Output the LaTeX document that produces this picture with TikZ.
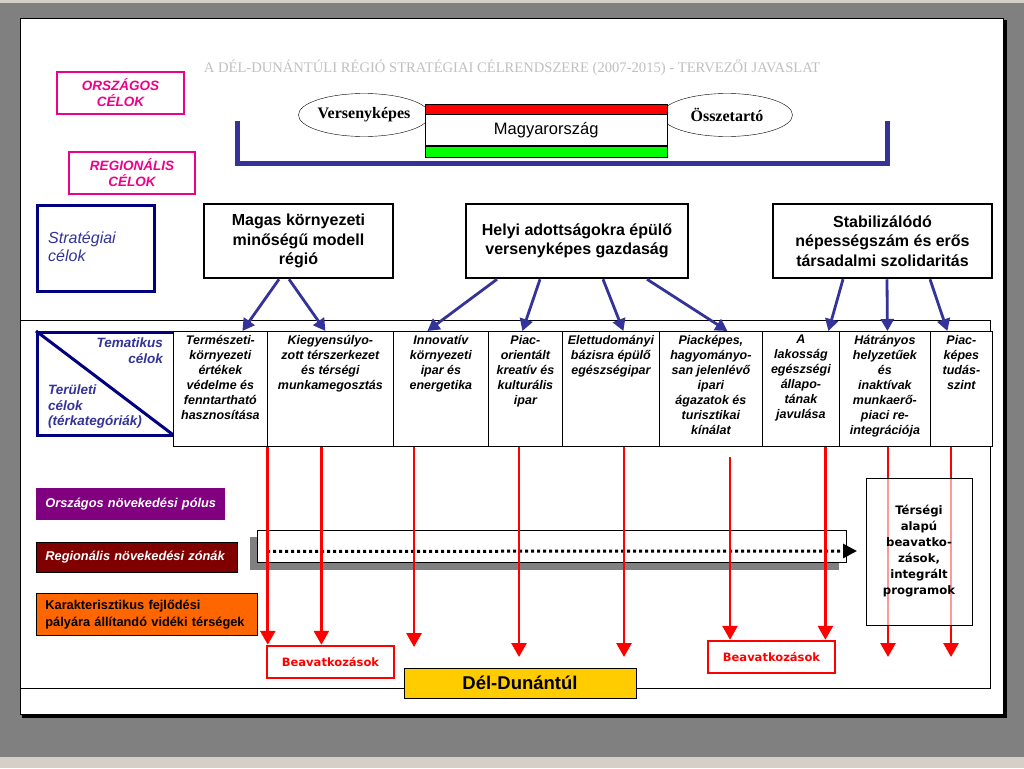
\documentclass[tikz,border=0pt]{standalone}
\usepackage{fontspec}
\setmainfont{Liberation Sans}
\newfontfamily\timesfont{Liberation Serif}
\newfontfamily\dejavu{DejaVu Sans}
\usetikzlibrary{positioning,arrows.meta,shapes.geometric}

\definecolor{slidegray}{HTML}{808080}
\definecolor{winbar}{HTML}{D4D0C8}
\definecolor{barblue}{HTML}{333399}
\definecolor{navybox}{HTML}{000080}
\definecolor{titlegray}{HTML}{C0C0C0}
\definecolor{hugreen}{HTML}{00FF00}
\definecolor{pole}{HTML}{800080}
\definecolor{zone}{HTML}{800000}
\definecolor{rural}{HTML}{FF6600}
\definecolor{regio}{HTML}{FFCC00}

\tikzset{
  levelbox/.style={draw=magenta,line width=1.2pt,text=magenta,align=center,inner sep=0pt,
    font=\bfseries\itshape\fontsize{13.5}{16}\selectfont},
  goalbox/.style={draw,line width=2.5pt,fill=white,align=center,inner sep=0pt,
    minimum height=74pt,font=\bfseries\fontsize{16}{19.5}\selectfont},
  cellbox/.style={draw,fill=white,line width=0.8pt,minimum height=115pt,inner sep=0pt,anchor=north west},
  celltext/.style={align=center,inner sep=0pt,font=\bfseries\itshape\fontsize{12.5}{15}\selectfont},
  areabox/.style={draw,line width=0.8pt,anchor=north west,inner sep=0pt,inner xsep=9pt,align=left,
    font=\bfseries\itshape\fontsize{12.8}{15}\selectfont},
  beavbox/.style={draw=red,line width=2.5pt,fill=white,text=red,inner sep=0pt,
    minimum width=127pt,minimum height=32pt,font=\dejavu\bfseries\fontsize{11.5}{13}\selectfont},
  bluearr/.style={draw=barblue,line width=2.8pt,-{Triangle[width=13pt,length=12pt]}},
  redarr/.style={draw=red,line width=2.8pt,-{Triangle[width=15pt,length=14pt]}}
}

\begin{document}
\begin{tikzpicture}[x=1pt,y=-1pt]
\useasboundingbox (0,0) rectangle (1024,768);
% window and slide
\fill[slidegray] (0,0) rectangle (1024,768);
\fill[winbar] (0,0) rectangle (1024,3);
\fill[winbar] (0,757) rectangle (1024,768);
\fill[black] (22,20) rectangle (1007,718);
\filldraw[fill=white,draw=black,line width=0.8pt] (20,18) rectangle (1003,714);

% title
\node[text=titlegray,inner sep=0pt,font=\timesfont\fontsize{14.6}{16}\selectfont] (title) at (512,68)
  {A DÉL-DUNÁNTÚLI RÉGIÓ STRATÉGIAI CÉLRENDSZERE (2007-2015) - TERVEZŐI JAVASLAT};

% levels
\node[levelbox,minimum width=127pt,minimum height=42pt] (orszagos) at (120.5,93) {ORSZÁGOS\\CÉLOK};
\node[levelbox,minimum width=126pt,minimum height=42pt] (regionalis) at (132,173) {REGIONÁLIS\\CÉLOK};

% national goals
\draw[barblue,line width=5pt] (237,121) -- (237,163) -- (887,163) -- (887,121);
\node[draw,ellipse,fill=white,minimum width=128pt,minimum height=43pt,inner sep=0pt,
  font=\timesfont\bfseries\fontsize{16}{18}\selectfont] (verseny) at (364,115) {Versenyképes};
\node[draw,ellipse,fill=white,minimum width=131pt,minimum height=43pt,inner sep=0pt,
  font=\timesfont\bfseries\fontsize{16}{18}\selectfont] (osszetart) at (727,115) {Összetartó};
\node[draw,fill=red,minimum width=242pt,minimum height=10pt,inner sep=0pt,anchor=north west] (redband) at (425,104) {};
\node[draw,fill=white,minimum width=242pt,minimum height=31pt,inner sep=0pt,below=0pt of redband,
  font=\fontsize{16.5}{18}\selectfont] (flag) {Magyarország};
\node[draw,fill=hugreen,minimum width=242pt,minimum height=11pt,inner sep=0pt,below=0pt of flag] (greenband) {};

% strategic goals
\node[draw=navybox,line width=3pt,minimum width=117pt,minimum height=86pt,anchor=north west] (strat) at (36,204) {};
\node[text=barblue,align=left,anchor=west,inner sep=0pt,font=\itshape\fontsize{16}{18}\selectfont] (strattext) at (48,247) {Stratégiai\\célok};
\node[goalbox,minimum width=189pt] (magas) at (298.5,241) {Magas környezeti\\minőségű modell\\régió};
\node[goalbox,minimum width=222pt] (helyi) at (577,241) {Helyi adottságokra épülő\\versenyképes gazdaság};
\node[goalbox,minimum width=219pt] (stabil) at (882.5,241) {Stabilizálódó\\népességszám és erős\\társadalmi szolidaritás};

% thematic frame
\draw[line width=0.8pt] (20,320) -- (990,320) -- (990,688) -- (20,688);
\node[draw=navybox,line width=3pt,minimum width=137pt,minimum height=103pt,anchor=north west] (tema) at (36,331) {};
\draw[navybox,line width=3pt] (tema.north west) -- (tema.south east);
\node[text=barblue,align=right,anchor=north east,inner sep=0pt,font=\bfseries\itshape\fontsize{13.5}{15.5}\selectfont] (tematext) at (163,338) {Tematikus\\célok};
\node[text=barblue,align=left,anchor=west,inner sep=0pt,font=\bfseries\itshape\fontsize{13.5}{15.5}\selectfont] (teruletext) at (48,407) {Területi\\célok\\(térkategóriák)};

\node[cellbox,minimum width=94pt] (c1) at (173,331) {};
\node[cellbox,minimum width=126pt] (c2) at (267,331) {};
\node[cellbox,minimum width=95pt] (c3) at (393,331) {};
\node[cellbox,minimum width=74pt] (c4) at (488,331) {};
\node[cellbox,minimum width=97pt] (c5) at (562,331) {};
\node[cellbox,minimum width=103pt] (c6) at (659,331) {};
\node[cellbox,minimum width=77pt] (c7) at (762,331) {};
\node[cellbox,minimum width=91pt] (c8) at (839,331) {};
\node[cellbox,minimum width=62pt] (c9) at (930,331) {};
\node[celltext,below=4pt of c1.north] {Természeti-\\környezeti\\értékek\\védelme és\\fenntartható\\hasznosítása};
\node[celltext,below=4pt of c2.north] {Kiegyensúlyo-\\zott térszerkezet\\és térségi\\munkamegosztás};
\node[celltext,below=4pt of c3.north] {Innovatív\\környezeti\\ipar és\\energetika};
\node[celltext,below=4pt of c4.north] {Piac-\\orientált\\kreatív és\\kulturális\\ipar};
\node[celltext,below=4pt of c5.north] {Elettudományi\\bázisra épülő\\egészségipar};
\node[celltext,below=4pt of c6.north] {Piacképes,\\hagyományo-\\san jelenlévő\\ipari\\ágazatok és\\turisztikai\\kínálat};
\node[celltext,below=4pt of c7.north] {A\\lakosság\\egészségi\\állapo-\\tának\\javulása};
\node[celltext,below=4pt of c8.north] {Hátrányos\\helyzetűek\\és\\inaktívak\\munkaerő-\\piaci re-\\integrációja};
\node[celltext,below=4pt of c9.north] {Piac-\\képes\\tudás-\\szint};

% goal arrows
\draw[bluearr] ([xshift=-19.5pt]magas.south) -- ([xshift=22pt]c1.north);
\draw[bluearr] ([xshift=-9.5pt]magas.south) -- ([xshift=-5pt]c2.north);
\draw[bluearr] ([xshift=-80pt]helyi.south) -- ([xshift=-13.5pt]c3.north);
\draw[bluearr] ([xshift=-37pt]helyi.south) -- ([xshift=-3pt]c4.north);
\draw[bluearr] ([xshift=26pt]helyi.south) -- ([xshift=12.5pt]c5.north);
\draw[bluearr] ([xshift=70pt]helyi.south) -- ([xshift=16.5pt]c6.north);
\draw[bluearr] ([xshift=-39.5pt]stabil.south) -- ([xshift=27.5pt]c7.north);
\draw[bluearr] ([xshift=4.5pt]stabil.south) -- ([xshift=2.5pt]c8.north);
\draw[bluearr] ([xshift=47.5pt]stabil.south) -- ([xshift=-14pt]c9.north);

% territorial categories
\node[areabox,draw=none,fill=pole,text=white,minimum width=189pt,minimum height=32pt,text width=171pt] (polus) at (36,488) {Országos növekedési pólus};
\node[areabox,fill=zone,text=white,minimum width=201pt,minimum height=30pt,text width=183pt] (zonak) at (36,542) {Regionális növekedési zónák};
\node[areabox,fill=rural,minimum width=221pt,minimum height=42pt,text width=203pt,
  font=\bfseries\fontsize{12.8}{17}\selectfont] (videki) at (36,593) {Karakterisztikus fejlődési\\pályára állítandó vidéki térségek};

\fill[slidegray] (250,537) rectangle (839,570);
\node[draw,fill=white,line width=0.8pt,minimum width=589pt,minimum height=32pt,inner sep=0pt,anchor=north west] (zonebar) at (257,530) {};
\coordinate (dotend) at (857,551);
\draw[line width=3pt,dash pattern=on 3pt off 3pt,-{Triangle[width=14pt,length=14pt]}] ([xshift=10pt,yshift=-5pt]zonebar.west) -- (dotend);

% interventions
\node[beavbox] (beav1) at (330.5,662) {Beavatkozások};
\node[beavbox] (beav2) at (771.5,657) {Beavatkozások};
\node[draw,fill=regio,line width=0.8pt,minimum width=232pt,minimum height=30pt,inner sep=0pt,
  font=\bfseries\fontsize{18.5}{20}\selectfont] (deldunantul) at (520,683) {Dél-Dunántúl};

\coordinate (e3) at (414,647);
\coordinate (e4) at (519,657);
\coordinate (e5) at (624,657);
\coordinate (s6) at (730,457);
\coordinate (e8) at (888,657);
\coordinate (e9) at (951,657);
\draw[redarr] (c1.south east) -- (c1.south east |- beav1.north);
\draw[redarr] ([xshift=-9pt]c2.south) -- ([xshift=-9pt]c2.south |- beav1.north);
\draw[redarr] (e3 |- c3.south) -- (e3);
\draw[redarr] (e4 |- c4.south) -- (e4);
\draw[redarr] (e5 |- c5.south) -- (e5);
\draw[redarr] (s6) -- (s6 |- beav2.north);
\draw[redarr] ([xshift=24.5pt]c7.south) -- ([xshift=24.5pt]c7.south |- beav2.north);
\draw[redarr] (e8 |- c8.south) -- (e8);
\draw[redarr] (e9 |- c9.south) -- (e9);

\node[draw,line width=0.8pt,fill=white,fill opacity=0.6,text opacity=1,minimum width=106pt,minimum height=147pt,
  inner sep=0pt,align=center,font=\dejavu\bfseries\fontsize{11.7}{16}\selectfont] (tersegi) at (919,551.5)
  {Térségi\\alapú\\beavatko-\\zások,\\integrált\\programok};
\end{tikzpicture}
\end{document}
